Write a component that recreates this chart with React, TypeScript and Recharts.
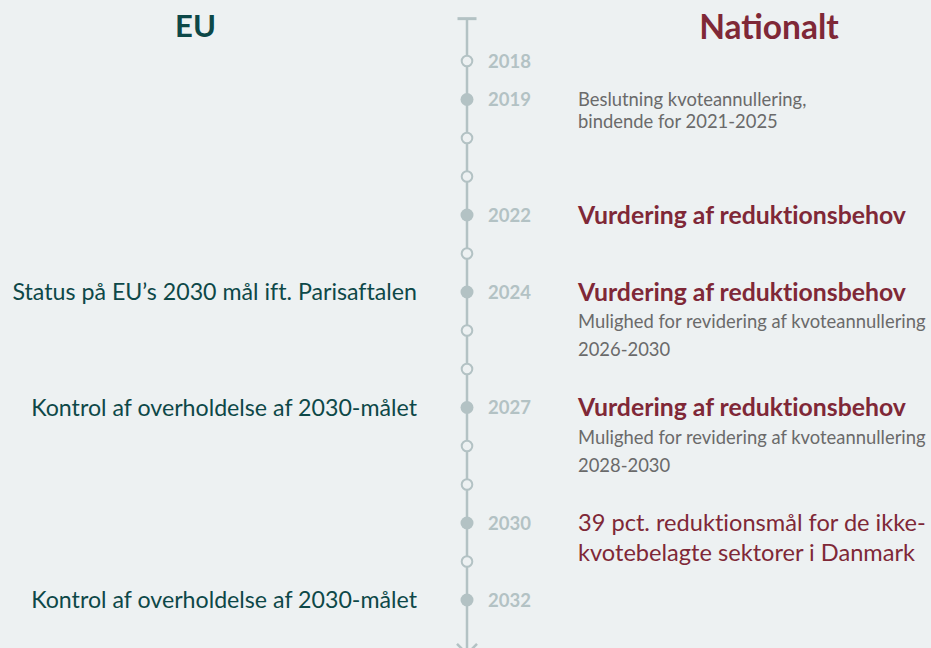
import React from 'react';
import { ScatterChart, Scatter, XAxis, YAxis, ReferenceLine } from 'recharts';

const years = [2018, 2019, 2020, 2021, 2022, 2023, 2024, 2025, 2026, 2027, 2028, 2029, 2030, 2031, 2032];
const markedYears = [2019, 2022, 2024, 2027, 2030, 2032];
const labeledYears = [2018, 2019, 2022, 2024, 2027, 2030, 2032];

const euEvents = [
  { year: 2024, text: 'Status på EU’s 2030 mål ift. Parisaftalen' },
  { year: 2027, text: 'Kontrol af overholdelse af 2030-målet' },
  { year: 2032, text: 'Kontrol af overholdelse af 2030-målet' },
];

const nationalHeadlines = [
  { year: 2022, text: 'Vurdering af reduktionsbehov' },
  { year: 2024, text: 'Vurdering af reduktionsbehov' },
  { year: 2027, text: 'Vurdering af reduktionsbehov' },
];

const nationalDecision = [
  { year: 2019, lines: ['Beslutning kvoteannullering,', 'bindende for 2021-2025'] },
];

const nationalNotes = [
  { year: 2024, lines: ['Mulighed for revidering af kvoteannullering', '2026-2030'] },
  { year: 2027, lines: ['Mulighed for revidering af kvoteannullering', '2028-2030'] },
];

const nationalTargets = [
  { year: 2030, lines: ['39 pct. reduktionsmål for de ikke-', 'kvotebelagte sektorer i Danmark'] },
];

const TIMELINE_START = 2016.9;
const TIMELINE_END = 2033.4;

const BG = '#edf1f2';
const AXIS = '#b3c2c4';
const TEAL = '#0d4848';
const MAROON = '#7f2837';
const GREY = '#6a6a6a';
const FONT = 'Lato, "Open Sans", sans-serif';
const NOLIG = { fontVariantLigatures: 'none' as const, fontFeatureSettings: '"liga" 0, "dlig" 0' };

const dots = years.map((y) => ({ x: 0, y, marked: markedYears.includes(y), labeled: labeledYears.includes(y) }));
const toPts = <T extends { year: number }>(arr: T[]) => arr.map((d) => ({ ...d, x: 0, y: d.year }));

const DotShape = (p: any) => {
  const { cx, cy, payload } = p;
  return (
    <g>
      {payload.marked ? (
        <circle cx={cx} cy={cy} r={6.5} fill={AXIS} />
      ) : (
        <circle cx={cx} cy={cy} r={5.3} fill={BG} stroke={AXIS} strokeWidth={2} />
      )}
      {payload.labeled && (
        <text x={cx + 21} y={cy} dy="0.36em" fill={AXIS} fontSize={18.5} fontWeight={700} fontFamily={FONT}>
          {payload.y}
        </text>
      )}
    </g>
  );
};

const EuShape = (p: any) => (
  <text x={p.cx - 50} y={p.cy} dy="0.35em" textAnchor="end" fill={TEAL} fontSize={23.2} fontFamily={FONT} style={NOLIG}>
    {p.payload.text}
  </text>
);

const HeadlineShape = (p: any) => (
  <text x={p.cx + 111} y={p.cy} dy="0.35em" fill={MAROON} fontSize={24.8} fontWeight={700} fontFamily={FONT} style={NOLIG}>
    {p.payload.text}
  </text>
);

const DecisionShape = (p: any) => (
  <text x={p.cx + 111} y={p.cy} fill={GREY} fontSize={18.4} fontFamily={FONT} style={NOLIG}>
    {p.payload.lines.map((l: string, i: number) => (
      <tspan key={i} x={p.cx + 111} dy={i === 0 ? '0.35em' : 22}>{l}</tspan>
    ))}
  </text>
);

const NoteShape = (p: any) => (
  <text x={p.cx + 111} y={p.cy + 30} fill={GREY} fontSize={18.4} fontFamily={FONT} style={NOLIG}>
    {p.payload.lines.map((l: string, i: number) => (
      <tspan key={i} x={p.cx + 111} dy={i === 0 ? '0.35em' : 28}>{l}</tspan>
    ))}
  </text>
);

const TargetShape = (p: any) => (
  <text x={p.cx + 111} y={p.cy} fill={MAROON} fontSize={23.6} fontFamily={FONT} style={NOLIG}>
    {p.payload.lines.map((l: string, i: number) => (
      <tspan key={i} x={p.cx + 111} dy={i === 0 ? '0.35em' : 30}>{l}</tspan>
    ))}
  </text>
);

const AxisShape = (p: any) => {
  const { x1, y1, y2 } = p;
  return (
    <g>
      <line x1={x1} y1={y1} x2={x1} y2={y2} stroke={AXIS} strokeWidth={2.5} />
      <line x1={x1 - 9.5} y1={y1} x2={x1 + 9.5} y2={y1} stroke={AXIS} strokeWidth={3} />
      <polyline points={`${x1 - 10},${y2 - 10} ${x1},${y2} ${x1 + 10},${y2 - 10}`} fill="none" stroke={AXIS} strokeWidth={2.5} />
    </g>
  );
};

export default function App() {
  return (
    <div style={{ position: 'absolute', left: 0, top: 0, width: 931, height: 648, background: BG, overflow: 'hidden', fontFamily: FONT }}>
      <div style={{ position: 'absolute', left: 0, width: 391, top: 7, textAlign: 'center', color: TEAL, fontSize: 31, fontWeight: 700, lineHeight: '37px' }}>EU</div>
      <div style={{ position: 'absolute', left: 669, width: 200, top: 7, textAlign: 'center', color: MAROON, fontSize: 33.5, fontWeight: 700, lineHeight: '38px' }}>Nationalt</div>
      <div style={{ position: 'absolute', left: 0, top: 0 }}>
        <ScatterChart width={931} height={648} margin={{ top: 61, bottom: 48, left: 3, right: 0 }}>
          <XAxis type="number" dataKey="x" domain={[-1, 1]} hide />
          <YAxis type="number" dataKey="y" domain={[2018, 2032]} reversed hide />
          <ReferenceLine
            segment={[{ x: 0, y: TIMELINE_START }, { x: 0, y: TIMELINE_END }]}
            ifOverflow="visible"
            shape={AxisShape}
          />
          <Scatter data={dots} shape={DotShape} isAnimationActive={false} />
          <Scatter data={toPts(euEvents)} shape={EuShape} isAnimationActive={false} />
          <Scatter data={toPts(nationalHeadlines)} shape={HeadlineShape} isAnimationActive={false} />
          <Scatter data={toPts(nationalDecision)} shape={DecisionShape} isAnimationActive={false} />
          <Scatter data={toPts(nationalNotes)} shape={NoteShape} isAnimationActive={false} />
          <Scatter data={toPts(nationalTargets)} shape={TargetShape} isAnimationActive={false} />
        </ScatterChart>
      </div>
    </div>
  );
}
